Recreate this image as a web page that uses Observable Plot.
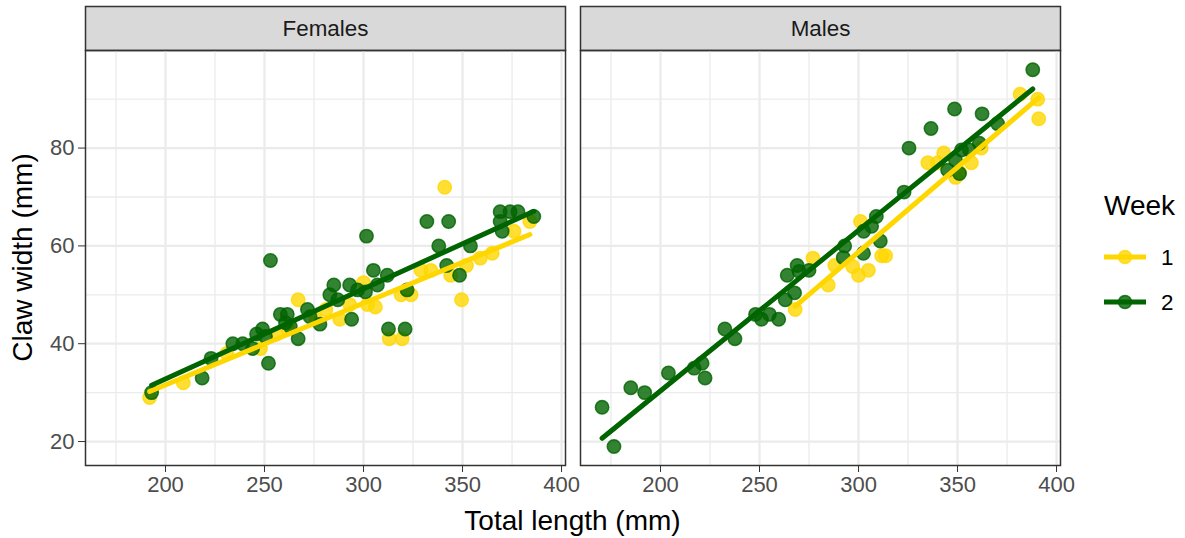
<!DOCTYPE html>
<html>
<head>
<meta charset="utf-8">
<script src="https://cdn.jsdelivr.net/npm/d3@7"></script>
<script src="https://cdn.jsdelivr.net/npm/@observablehq/plot@0.6"></script>
<style>
  html, body { margin: 0; padding: 0; background: #fff; }
  #wrap { position: relative; width: 1185px; height: 538px; font-family: "Liberation Sans", Arial, sans-serif; }
  #wrap svg.overlay { position: absolute; left: 0; top: 0; pointer-events: none; }
  #wrap svg [aria-label="x-axis tick label"] text,
  #wrap svg [aria-label="y-axis tick label"] text { fill: #4D4D4D; }
</style>
</head>
<body>
<div id="wrap"></div>
<script>
// ---- categories & ticks ----
const panels = ["Females", "Males"];
const weeks = ["1", "2"];
const weekColors = ["#FFD700", "#006400"];
const xTicks = [200, 250, 300, 350, 400];
const xMinor = [175, 225, 275, 325, 375];
const yTicks = [20, 40, 60, 80];
const yMinor = [30, 50, 70, 90];
const xTitle = "Total length (mm)";
const yTitle = "Claw width (mm)";
const legendTitle = "Week";

// ---- Females, week 1 ----
const femW1x = [192, 209, 231, 248, 256, 262, 267, 276, 281, 288, 293, 300, 302, 306, 313, 319.5, 319, 324, 329, 334, 341, 344, 349.5, 352, 359, 365, 376, 384];
const femW1y = [29, 32, 38, 39, 42, 43, 49, 45, 47, 45, 48, 52.5, 48, 47.5, 41, 41, 50, 50, 55, 55, 72, 54, 49, 56, 57.5, 58.5, 63, 65];
// ---- Females, week 2 ----
const femW2x = [193, 218.5, 223, 234, 239, 244, 246, 249, 250.5, 252, 253, 258, 261.5, 260.6, 263, 267, 271.7, 273, 278, 283, 285, 287, 293, 294, 297, 301, 301.5, 305, 307, 312, 312.6, 321, 322, 332, 338, 342, 343, 348.5, 354, 369, 374, 378, 369, 370, 386];
const femW2y = [30, 33, 37, 40, 40, 39, 42, 43, 41.5, 36, 57, 46, 46, 44.3, 43.5, 41, 47, 45.5, 44, 50, 52, 49, 52, 45, 51, 50.6, 62, 55, 52, 54, 43, 43, 51, 65, 60, 56, 65, 54, 60, 67, 67, 67, 65, 63, 66];
// ---- Males, week 1 ----
const malW1x = [268, 277, 284.7, 288, 297, 300, 305, 301, 311.7, 313.7, 335, 340, 343, 349, 351, 357, 362, 381.6, 390.5, 391];
const malW1y = [47, 57.5, 52, 56, 55.8, 54, 55, 65, 58, 58, 77, 77, 79, 74, 75, 77, 80, 91, 90, 86];
// ---- Males, week 2 ----
const malW2x = [170.5, 176.5, 185, 192, 204, 217, 221, 222.5, 232.5, 237.6, 248, 251, 255, 259.7, 264, 263, 267.7, 269, 270, 275, 292.3, 293, 302.5, 302.6, 306.6, 309, 311, 323, 325.5, 336.6, 348.5, 362.4, 370.2, 345, 349, 351, 352, 356, 361, 388];
const malW2y = [27, 19, 31, 30, 34, 35, 36, 33, 43, 41, 46, 45, 46, 45, 54, 49, 50.4, 56, 54.8, 55, 57.6, 60, 58.5, 63, 64, 66, 61, 71, 80, 84, 88, 87, 85, 75.5, 77.5, 74.8, 79.6, 79.6, 81, 96];

// ---- build table ----
function rows(sex, week, xs, ys) { return xs.map((x, i) => ({sex, week, x, y: ys[i]})); }
const data = [
  ...rows("Females", "1", femW1x, femW1y),
  ...rows("Females", "2", femW2x, femW2y),
  ...rows("Males", "1", malW1x, malW1y),
  ...rows("Males", "2", malW2x, malW2y)
];

const W = 1185, H = 538;
const mL = 85, mR = 125, mT = 50, mB = 73;
const panelH = H - mT - mB;
const stripH = 44;

const chart = Plot.plot({
  width: W, height: H,
  marginLeft: mL, marginRight: mR, marginTop: mT, marginBottom: mB,
  style: { fontFamily: "'Liberation Sans', Arial, sans-serif", fontSize: "22px", color: "#333333", background: "white", overflow: "visible" },
  fx: { domain: panels, paddingInner: 15 / 495, paddingOuter: 0, round: false, axis: null, label: null },
  x: { domain: [159.6, 402], ticks: xTicks, tickSize: 7, tickPadding: 4, tickFormat: d => String(d), label: null },
  y: { domain: [15.1, 99.95], ticks: yTicks, tickSize: 7, tickPadding: 4, tickFormat: d => String(d), label: null },
  color: { domain: weeks, range: weekColors },
  marks: [
    // strips
    Plot.frame({ fill: "#D9D9D9", stroke: "#333333", strokeWidth: 1.5, insetTop: -stripH, insetBottom: panelH }),
    Plot.text(panels, { fx: d => d, text: d => d, frameAnchor: "top", lineAnchor: "middle", dy: -stripH / 2, fontSize: 22.4, fill: "#1A1A1A" }),
    // grid
    Plot.ruleX(xMinor, { x: d => d, stroke: "#EBEBEB", strokeWidth: 1.3 }),
    Plot.ruleY(yMinor, { y: d => d, stroke: "#EBEBEB", strokeWidth: 1.3 }),
    Plot.ruleX(xTicks, { x: d => d, stroke: "#EBEBEB", strokeWidth: 2.3 }),
    Plot.ruleY(yTicks, { y: d => d, stroke: "#EBEBEB", strokeWidth: 2.3 }),
    // points
    Plot.dot(data, { x: "x", y: "y", fx: "sex", fill: "week", stroke: "week", r: 6.7, fillOpacity: 0.8, strokeOpacity: 0.8, strokeWidth: 1.5 }),
    // regression lines
    Plot.linearRegressionY(data, { x: "x", y: "y", fx: "sex", stroke: "week", strokeWidth: 5, ci: 0 }),
    // panel border
    Plot.frame({ stroke: "#333333", strokeWidth: 1.5 })
  ]
});

const wrap = document.getElementById("wrap");
wrap.appendChild(chart);

// ---- overlay: axis titles & legend ----
const ns = "http://www.w3.org/2000/svg";
const ov = document.createElementNS(ns, "svg");
ov.setAttribute("class", "overlay");
ov.setAttribute("width", W); ov.setAttribute("height", H);
ov.setAttribute("font-family", "'Liberation Sans', Arial, sans-serif");
function el(tag, attrs, text) {
  const e = document.createElementNS(ns, tag);
  for (const k in attrs) e.setAttribute(k, attrs[k]);
  if (text != null) e.textContent = text;
  ov.appendChild(e); return e;
}
const panelMidY = mT + panelH / 2;
const plotMidX = (mL + (W - mR)) / 2;
el("text", { x: 0, y: 0, transform: `translate(22,${panelMidY}) rotate(-90)`, "text-anchor": "middle", "dominant-baseline": "central", "font-size": 28, fill: "#000" }, yTitle);
el("text", { x: plotMidX, y: 520, "text-anchor": "middle", "dominant-baseline": "central", "font-size": 28, fill: "#000" }, xTitle);
// legend
const lgX = 1104;
el("text", { x: lgX, y: 205, "dominant-baseline": "central", "font-size": 28, fill: "#000" }, legendTitle);
weeks.forEach((w, i) => {
  const cy = 257 + i * 45;
  const c = weekColors[i];
  el("line", { x1: lgX, x2: lgX + 42, y1: cy, y2: cy, stroke: c, "stroke-width": 5 });
  el("circle", { cx: lgX + 21, cy, r: 6.5, fill: c, "fill-opacity": 0.8, stroke: c, "stroke-opacity": 0.8, "stroke-width": 1.5 });
  el("text", { x: lgX + 57, y: cy, "dominant-baseline": "central", "font-size": 22.4, fill: "#000" }, w);
});
wrap.appendChild(ov);
</script>
</body>
</html>
